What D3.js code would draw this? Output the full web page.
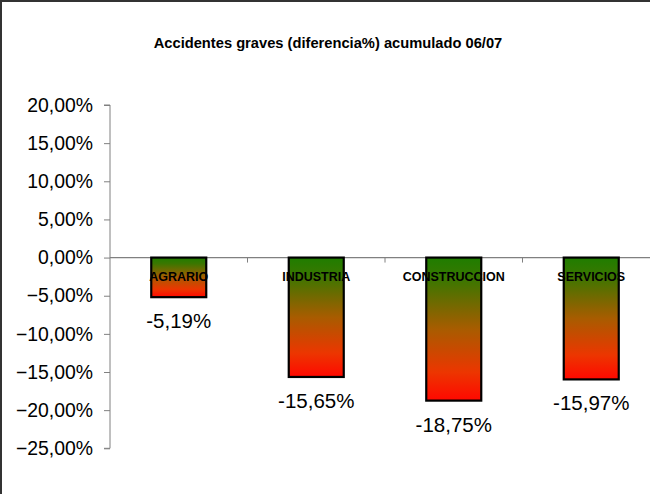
<!DOCTYPE html>
<html><head><meta charset="utf-8">
<script src="https://cdn.jsdelivr.net/npm/d3@7"></script>
<style>body{margin:0;background:#fff}svg{display:block;font-family:Arial,"Liberation Sans",sans-serif}</style>
</head><body><svg id="c" width="650" height="494"></svg>
<script>
const categories = ["AGRARIO","INDUSTRIA","CONSTRUCCION","SERVICIOS"];
const values = [-5.19, -15.65, -18.75, -15.97];
const valueLabels = ["-5,19%","-15,65%","-18,75%","-15,97%"];
const tickValues = [-25,-20,-15,-10,-5,0,5,10,15,20];
const title = "Accidentes graves (diferencia%) acumulado 06/07";

const svg = d3.select("#c");
svg.append("rect").attr("x",0).attr("y",0).attr("width",650).attr("height",494).attr("fill","#fff");
// outer chart border (right/bottom clipped out of view)
svg.append("rect").attr("x",1).attr("y",1).attr("width",700).attr("height",600)
  .attr("fill","none").attr("stroke","#333").attr("stroke-width",2);

const defs = svg.append("defs");
const g = defs.append("linearGradient").attr("id","grad").attr("x1",0).attr("y1",0).attr("x2",0).attr("y2",1);
[[0,"#1f7d00"],[0.15,"#3a7700"],[0.5,"#a85c00"],[0.8,"#ec3600"],[1,"#ff0800"]].forEach(s=>
  g.append("stop").attr("offset",s[0]).attr("stop-color",s[1]));

const y = d3.scaleLinear().domain([-25,20]).range([448.3,105]);
const x = d3.scaleBand().domain(categories).range([110,660]).paddingInner(0.6).paddingOuter(0.3);

svg.append("text").attr("x",328).attr("y",48).attr("text-anchor","middle")
  .attr("font-weight","bold").attr("font-size","14.7px").text(title);

const yAxis = d3.axisLeft(y).tickValues(tickValues).tickSize(6).tickPadding(11)
  .tickFormat(d=>d3.format(".2f")(d).replace(".",",")+"%");
const ya = svg.append("g").attr("transform","translate(110,0)").call(yAxis);
ya.select(".domain").attr("stroke","#808080").attr("d","M-6,"+y(20)+"H0V"+y(-25)+"H-6");
ya.selectAll(".tick line").attr("stroke","#808080");
ya.selectAll(".tick text").attr("font-size","19.4px").attr("fill","#000").attr("font-family","Arial,'Liberation Sans',sans-serif");

// x axis at zero with boundary ticks
const y0 = y(0);
svg.append("line").attr("x1",110).attr("x2",660).attr("y1",y0).attr("y2",y0).attr("stroke","#808080").attr("stroke-width",1.3);
const bounds = categories.map((c,i)=>110 + i*x.step());
svg.selectAll(".xt").data(bounds.slice(1)).enter().append("line")
  .attr("x1",d=>d).attr("x2",d=>d).attr("y1",y0).attr("y2",y0+5).attr("stroke","#808080");

svg.selectAll(".bar").data(values).enter().append("rect")
  .attr("x",(d,i)=>x(categories[i]))
  .attr("y",y0)
  .attr("width",x.bandwidth())
  .attr("height",d=>y(d)-y0)
  .attr("fill","url(#grad)").attr("stroke","#000").attr("stroke-width",2.2);

svg.selectAll(".cl").data(categories).enter().append("text")
  .attr("x",d=>x(d)+x.bandwidth()/2).attr("y",y0+23).attr("text-anchor","middle")
  .attr("font-weight","bold").attr("font-size","12.5px").attr("fill","#000").text(d=>d);

svg.selectAll(".vl").data(values).enter().append("text")
  .attr("x",(d,i)=>x(categories[i])+x.bandwidth()/2).attr("y",d=>y(d)+31).attr("text-anchor","middle")
  .attr("font-size","20.5px").attr("fill","#000").text((d,i)=>valueLabels[i]);
</script></body></html>
